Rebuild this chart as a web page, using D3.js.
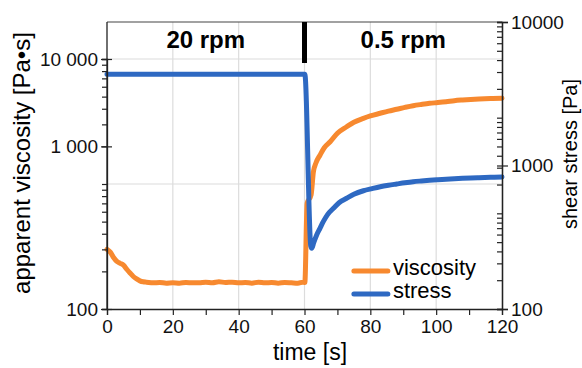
<!DOCTYPE html>
<html>
<head>
<meta charset="utf-8">
<script src="https://cdn.jsdelivr.net/npm/d3@7"></script>
<style>
  html, body { margin: 0; padding: 0; background: #fff; }
  svg { display: block; font-family: "Liberation Sans", Arial, sans-serif; }
  .tick-label { font-size: 19px; fill: #111; }
</style>
</head>
<body>
<svg id="chart" width="582" height="368"></svg>
<script>
// time [s] and apparent viscosity [Pa·s]
const viscTime = [0,1,2,3,4,5,6,7,8,9,10,11,12,14,16,18,20,22,24,26,28,30,32,34,36,38,40,42,44,46,48,50,52,54,56,58,59.5,60.1,60.8,62,62.7,63.5,64.7,66,67.8,70,72.8,75,77.9,80,83,85.5,88,90.5,93,95.5,98,100.5,103,105.5,108,110.5,113,116.5,120];
const viscosity = [300,285,258,240,232,224,208,194,182,174,168,165,164,162,163,161,162,161,163,162,162,164,162,165,163,164,162,163,161,164,162,163,161,163,162,161,164,163,700,818,1250,1480,1700,1950,2180,2550,2870,3120,3350,3500,3680,3830,3960,4100,4230,4330,4420,4480,4550,4640,4700,4750,4790,4830,4850];

// time [s] and shear stress [Pa]
const stressTime = [0,60.1,61.9,62.2,62.8,63.7,64.7,65.7,67,68.8,70.5,72.8,75,77.9,80.5,83,85.5,88,90.5,93,95.5,98,100.5,103,105.5,108,110.5,113,116.5,120];
const stress = [4320,4320,275,265,290,328,365,406,455,503,550,591,630,667,690,711,728,743,758,771,780,788,795,801,808,814,819,823,828,832];

// axes
const xTicks = [0,20,40,60,80,100,120];
const xMinorTicks = [10,30,50,70,90,110];
const leftLabels = [[100,"100"],[2000,"1 000"],[10000,"10 000"]];
const rightLabels = [[100,"100"],[1000,"1000"],[10000,"10000"]];
const speedLabels = [[30,"20 rpm"],[90,"0.5 rpm"]];
const seriesNames = ["viscosity","stress"];

const colors = { viscosity: "#f7892f", stress: "#2e69c2" };

const margin = { top: 22, right: 80, bottom: 59, left: 107 };
const width = 582 - margin.left - margin.right;
const height = 368 - margin.top - margin.bottom;

const svg = d3.select("#chart");
const g = svg.append("g").attr("transform", `translate(${margin.left},${margin.top})`);

const x = d3.scaleLinear().domain([0,120]).range([0,width]);
// left decade spans 125px; plot top lies above 10 000
const yLeft = d3.scaleLog().domain([100,10000]).range([height, height - 250]);
const yRight = d3.scaleLog().domain([100,10000]).range([height, 0]);
// right-hand minor ticks follow a 3-decade grid
const yRightTicks = d3.scaleLog().domain([10,10000]).range([height, 0]);

// gridlines
g.append("g").selectAll("line").data(xTicks.slice(1, -1)).join("line")
  .attr("x1", d => x(d)).attr("x2", d => x(d))
  .attr("y1", 0).attr("y2", height)
  .attr("stroke", "#dcdcdc").attr("stroke-width", 1.2);
g.append("g").selectAll("line").data([1000,10000]).join("line")
  .attr("x1", 0).attr("x2", width)
  .attr("y1", d => yLeft(d)).attr("y2", d => yLeft(d))
  .attr("stroke", "#dcdcdc").attr("stroke-width", 1.2);

// lines
const viscLine = d3.line()
  .x((d, i) => x(viscTime[i]))
  .y(d => yLeft(d))
  .curve(d3.curveMonotoneX);
const stressLine = d3.line()
  .x((d, i) => x(stressTime[i]))
  .y(d => yRight(d))
  .curve(d3.curveMonotoneX);

g.append("path").datum(viscosity)
  .attr("d", viscLine)
  .attr("fill", "none").attr("stroke", colors.viscosity)
  .attr("stroke-width", 5).attr("stroke-linejoin", "round").attr("stroke-linecap", "round");
g.append("path").datum(stress)
  .attr("d", stressLine)
  .attr("fill", "none").attr("stroke", colors.stress)
  .attr("stroke-width", 5).attr("stroke-linejoin", "round").attr("stroke-linecap", "round");

// frame
g.append("line").attr("x1", 0).attr("x2", width).attr("y1", 0).attr("y2", 0)
  .attr("stroke", "#444").attr("stroke-width", 1.2);

// bottom axis
const xAxis = g.append("g").attr("transform", `translate(0,${height})`)
  .call(d3.axisBottom(x).tickValues(xTicks.concat(xMinorTicks)).tickSize(6)
    .tickFormat(d => xTicks.includes(d) ? d : ""));
xAxis.selectAll("text").attr("class", "tick-label").attr("dy", "0.9em").attr("y", 7);

// left axis
const leftMinor = yLeft.ticks().filter(d => d <= 10000);
g.append("g")
  .call(d3.axisLeft(yLeft).tickValues(leftMinor).tickSize(5).tickFormat(""));
const leftMajor = g.append("g")
  .call(d3.axisLeft(yLeft).tickValues(leftLabels.map(d => d[0])).tickSize(6).tickPadding(3)
    .tickFormat(d => leftLabels.find(l => l[0] === d)[1]));
leftMajor.selectAll(".tick line").attr("x2", -6).attr("x1", 5);
leftMajor.select(".domain").attr("d", `M0,${height}V0`);
leftMajor.selectAll("text").attr("class", "tick-label");

// right axis
const rightMinor = yRightTicks.ticks();
g.append("g").attr("transform", `translate(${width},0)`)
  .call(d3.axisRight(yRightTicks).tickValues(rightMinor).tickSize(-5).tickFormat(""));
const rightMajor = g.append("g").attr("transform", `translate(${width},0)`)
  .call(d3.axisRight(yRight).tickValues(rightLabels.map(d => d[0])).tickSize(6).tickPadding(3)
    .tickFormat(d => rightLabels.find(l => l[0] === d)[1]));
rightMajor.selectAll(".tick line").attr("x1", -5);
rightMajor.selectAll("text").attr("class", "tick-label");

g.selectAll(".domain").attr("stroke", "#222").attr("stroke-width", 1.3);
g.selectAll(".tick line").attr("stroke", "#222").attr("stroke-width", 1.2);

// speed change marker
g.append("line")
  .attr("x1", x(60)).attr("x2", x(60)).attr("y1", 0).attr("y2", 41)
  .attr("stroke", "#000").attr("stroke-width", 5);

g.selectAll(".speed").data(speedLabels).join("text")
  .attr("class", "speed")
  .attr("x", d => x(d[0])).attr("y", 26)
  .attr("text-anchor", "middle")
  .style("font-size", "24px").style("font-weight", "bold")
  .text(d => d[1]);

// legend
const legend = g.append("g").attr("transform", `translate(${x(75)},${height - 38})`);
seriesNames.forEach((name, i) => {
  legend.append("line")
    .attr("x1", 0).attr("x2", 34).attr("y1", i * 23).attr("y2", i * 23)
    .attr("stroke", colors[name]).attr("stroke-width", 5).attr("stroke-linecap", "round");
  legend.append("text")
    .attr("x", 39).attr("y", i * 23 + 4)
    .style("font-size", "22px")
    .text(name);
});

// axis titles
svg.append("text")
  .attr("transform", `translate(30,${163}) rotate(-90)`)
  .attr("text-anchor", "middle")
  .style("font-size", "24px")
  .text("apparent viscosity [Pa•s]");
svg.append("text")
  .attr("transform", `translate(577,${154}) rotate(-90)`)
  .attr("text-anchor", "middle")
  .style("font-size", "20px")
  .text("shear stress [Pa]");
svg.append("text")
  .attr("x", 310).attr("y", 360)
  .attr("text-anchor", "middle")
  .style("font-size", "23px")
  .text("time [s]");
</script>
</body>
</html>
